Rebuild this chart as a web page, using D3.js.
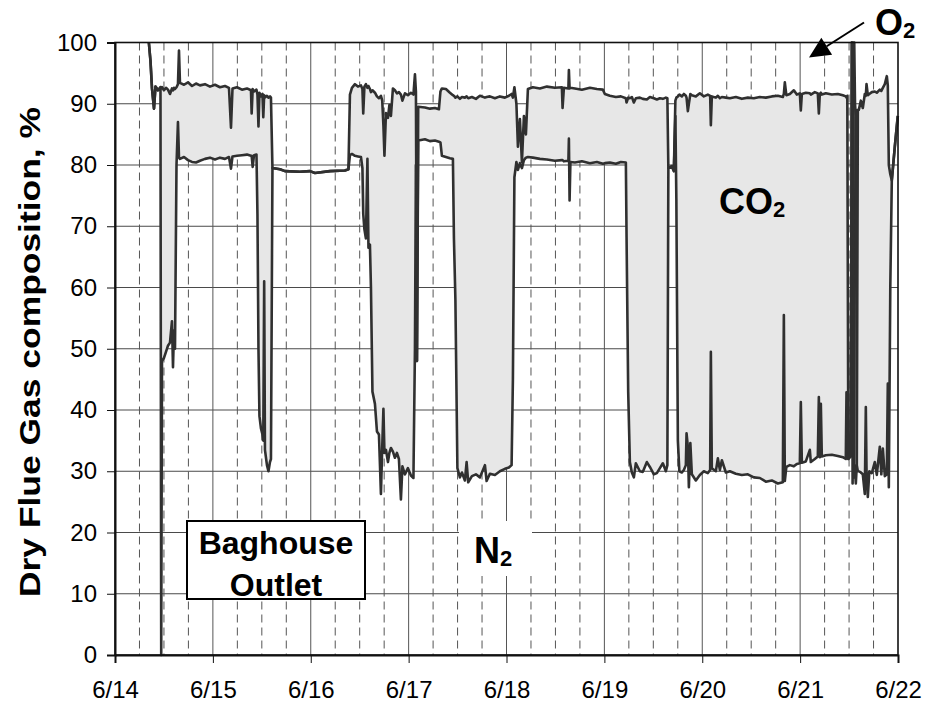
<!DOCTYPE html>
<html>
<head>
<meta charset="utf-8">
<script src="https://cdn.jsdelivr.net/npm/d3@7"></script>
<style>
  body { margin: 0; background: #fff; }
  svg { display: block; }
  text { font-family: Arial, "Liberation Sans", sans-serif; fill: #000; }
</style>
</head>
<body>
<svg id="chart" width="930" height="708"></svg>
<script>
// Hours since 6/14 00:00
const hours = [
  8.3,8.7,9.07,9.56,9.93,10.54,11.15,11.33,11.52,12.01,
  12.5,12.99,13.48,13.97,14.22,14.46,14.71,15.08,15.44,15.69,
  15.93,16.92,17.9,18.88,19.86,20.84,22.06,23.29,24.52,25.74,
  26.97,27.95,28.44,28.81,29.91,31.13,32.36,33.34,33.51,33.76,
  34.08,34.69,34.93,35.18,35.42,35.79,36.16,36.36,36.58,36.77,
  37.26,37.63,38.0,38.24,38.61,40.45,41.68,45.35,47.8,49.03,
  52.71,56.38,57.24,57.61,58.1,58.84,59.57,60.31,60.67,60.87,
  61.16,61.53,61.9,62.15,62.51,62.76,63.13,63.74,64.23,64.72,
  65.21,65.53,65.82,66.07,66.44,66.93,67.29,67.66,68.15,68.64,
  69.13,69.62,70.11,70.48,71.09,71.83,72.56,73.18,73.55,73.79,
  74.04,74.35,76.0,77.22,78.45,79.43,79.8,80.16,81.14,82.13,
  82.86,83.11,83.47,83.96,84.58,85.07,85.8,86.22,86.61,87.52,
  88.5,89.48,90.71,91.12,91.93,93.16,94.38,95.61,96.59,97.25,
  97.57,97.94,98.43,98.8,99.29,99.78,100.27,100.76,101.25,102.47,
  104.19,105.9,107.87,109.58,109.75,110.07,111.18,111.3,111.47,111.67,
  112.77,114.49,116.45,118.16,119.63,120.12,121.35,122.82,124.05,125.27,
  125.44,125.84,126.25,126.74,127.23,127.72,128.7,129.44,130.42,131.16,
  132.14,132.87,133.61,134.34,135.08,135.45,135.69,136.55,137.04,137.41,
  137.65,138.02,138.39,139.0,139.49,139.98,140.15,140.47,140.72,141.08,
  141.45,142.43,143.41,144.39,145.37,145.94,146.11,146.35,147.34,147.83,
  148.32,148.81,149.79,150.77,152.24,153.71,155.18,156.65,158.12,159.59,
  161.06,162.53,163.76,164.01,164.25,164.62,165.48,166.46,167.19,167.93,
  168.17,168.42,169.4,170.38,170.62,171.61,172.34,172.59,172.83,173.08,
  173.32,174.3,175.77,177.24,178.47,179.2,179.37,179.57,179.82,180.43,
  180.68,180.87,181.07,181.27,181.46,181.66,181.9,182.15,182.39,182.88,
  183.37,183.86,184.11,184.28,
  184.6,184.97,185.58,186.31,186.8,187.54,187.91,188.28,188.77,189.26,
  189.5,189.75,190.11,190.48,191.22,191.95
];

// N2, % (bottom layer)
const n2 = [
  100,97,92.5,89.2,92.8,92.2,92.7,0,48,48.5,
  49.5,50.5,51,54.5,47,53,50,80,87,81.2,
  81.0,81.3,80.8,80.5,80.4,80.7,81.0,81.2,80.9,81.2,
  81.0,81.3,79.4,81.4,81.5,81.6,81.7,81.5,81.5,79.7,
  81.6,81.7,72,50,39,37,36,35,61,33.5,
  31,30,31.5,32,79.5,79.3,79.0,78.9,79.0,78.7,
  79.0,79.1,79.3,81.6,81.8,81.5,81.4,81.3,79.5,72,
  69.5,68,81,66.5,67,60,43,41,36.5,36,
  26.3,34,40.2,33,33.5,31.5,33,33.8,33.2,32.2,
  33,32,25.4,30.8,29.5,30.5,29.3,28.9,50,80,
  48,84,84.2,83.9,84.0,83.8,83.7,81.5,81.3,81.1,
  81.0,68,58,30.5,29.0,29.8,28.5,31.5,28.2,29.2,
  29.5,29.0,31.0,28.4,29.6,29.4,30.0,30.4,30.6,31.0,
  45,78,80.5,79.2,80.3,79.5,80.8,81.2,81.3,81.2,
  81.0,80.9,80.7,80.8,80.8,80.6,80.7,84.3,74.2,80.5,
  80.4,80.6,80.3,80.5,80.2,80.3,80.4,80.2,80.5,80.4,
  68.2,43,31.5,29.8,29.0,31.3,30.0,29.9,31.5,30.7,
  29.5,29.7,30.5,31.3,30.0,31.0,79.5,79.8,79.0,88,
  74.5,35,30,29.8,30.2,31,36.2,34,27.4,34.6,
  29.5,28.5,29.4,30.0,29.7,30.2,49.5,30.5,30.0,32.1,
  30.2,31.8,29.8,30.0,29.6,29.4,29.5,29.0,28.9,28.3,
  28.5,28.0,28.2,55.5,28.4,30.7,31.0,30.8,31.2,31.3,
  41.3,31.4,31.6,33.5,31.5,32.0,32.4,42.1,32.3,41,
  32.4,32.6,32.7,32.5,32.3,32.0,42.9,33,32,32.5,
  100,28,98,29,30,28,31,30,30,29.8,
  29.5,26.3,40.5,30.2,
  25.8,30.0,29.7,31.5,29.4,34,29.5,33.7,29.2,29.5,
  44.3,27.4,60,77.5,83,88
];

// CO2, % (stacked on N2)
const co2 = [
  0,0,0,0,0,0,0,92.5,44.7,43.7,
  43.1,41.8,40.6,38.0,45.2,39.6,42.4,12.7,6.2,17.5,
  12.4,11.8,12.7,12.4,12.9,12.3,12.2,11.6,12.2,11.5,
  11.9,11.3,6.7,11.1,11.2,10.7,10.8,10.7,6.9,12.7,
  10.4,10.6,19.5,36.3,52.8,54.2,55.6,52.8,30.4,57.5,
  60.3,61.0,59.7,59.0,0,0,0,0,0,0,
  0,0,0,9.9,10.8,11.7,11.4,11.7,12.9,16.4,
  23.3,25.2,11.6,26.4,25.4,31.9,49.2,50.8,54.7,54.9,
  65.0,56.5,46.2,48.5,55.0,56.2,56.8,54.2,59.3,60.0,
  58.7,59.9,66.1,59.7,62.2,60.9,62.5,62.6,44.8,12.0,
  0,5.5,5.2,5.3,5.3,5.3,8.3,11.0,11.1,10.7,
  10.4,23.3,33.0,60.7,61.8,61.3,62.5,59.7,62.7,61.9,
  61.3,62.3,60.0,62.7,61.6,61.5,61.2,60.6,60.7,60.6,
  46.0,14.7,9.5,3.8,7.2,1.0,7.2,3.8,11.1,11.5,
  11.5,11.9,11.9,11.9,8.5,12.0,11.8,11.2,18.3,12.1,
  12.1,11.7,12.3,11.9,12.1,11.3,10.9,10.9,10.7,10.5,
  22.0,48.0,59.4,61.3,61.2,59.6,61.0,60.9,59.2,60.4,
  61.4,61.0,60.4,59.5,61.0,59.9,0,0,0,2.5,
  16.5,56.2,61.5,61.4,61.4,60.3,54.8,54.8,62.6,57.0,
  61.9,62.7,62.3,61.2,61.8,61.1,37.0,60.7,61.0,59.2,
  60.7,59.3,61.2,60.9,61.5,61.4,61.5,61.9,62.2,62.7,
  62.7,63.3,62.9,36.1,65.1,60.7,60.6,61.4,60.3,60.4,
  47.6,60.2,60.2,58.2,60.0,59.9,59.3,46.3,59.3,50.8,
  59.1,59.1,58.8,59.1,59.1,59.2,48.1,58.3,0,0,
  0,72,2,71,60,60,0,59,59,60.7,
  59.8,65.3,50.8,63.0,
  65.6,61.6,62.2,60.5,62.4,58.3,62.6,58.9,64.0,65.0,
  48.7,52.6,18.5,0,0,0
];

const dayLabels = ["6/14","6/15","6/16","6/17","6/18","6/19","6/20","6/21","6/22"];
const yTicks = [0,10,20,30,40,50,60,70,80,90,100];

const svg = d3.select("#chart");
const plot = { left: 115, right: 898, top: 42.5, bottom: 655 };

const x = d3.scaleLinear().domain([0, 192]).range([plot.left, plot.right]);
const y = d3.scaleLinear().domain([0, 100]).range([plot.bottom, plot.top]);

const rows = hours.map((h, i) => ({ h, n2: n2[i], top: n2[i] + co2[i] }));

// gridlines
const grid = svg.append("g");
grid.selectAll("line.h").data(yTicks.slice(1, -1)).join("line")
  .attr("x1", plot.left).attr("x2", plot.right)
  .attr("y1", d => y(d)).attr("y2", d => y(d))
  .attr("stroke", "#4a4a4a").attr("stroke-width", 1);

const dayHours = dayLabels.map((_, i) => i * 24);
grid.selectAll("line.d").data(dayHours.slice(1, -1)).join("line")
  .attr("x1", d => x(d)).attr("x2", d => x(d))
  .attr("y1", plot.top).attr("y2", plot.bottom)
  .attr("stroke", "#555").attr("stroke-width", 1);

const quarterHours = [];
dayHours.slice(0, -1).forEach(d => [6, 12, 18].forEach(q => quarterHours.push(d + q)));
grid.selectAll("line.q").data(quarterHours).join("line")
  .attr("x1", d => x(d)).attr("x2", d => x(d))
  .attr("y1", plot.top).attr("y2", plot.bottom)
  .attr("stroke", "#555").attr("stroke-width", 1)
  .attr("stroke-dasharray", "8,5");

// CO2 band between the N2 line and the N2+CO2 line
const band = d3.area()
  .x(d => x(d.h)).y0(d => y(d.n2)).y1(d => y(d.top));
svg.append("path").datum(rows).attr("d", band)
  .attr("fill", "#e7e7e7").attr("stroke", "none");

const lineN2 = d3.line().x(d => x(d.h)).y(d => y(d.n2));
const lineTop = d3.line().x(d => x(d.h)).y(d => y(d.top));
[lineN2, lineTop].forEach(gen => {
  svg.append("path").datum(rows).attr("d", gen)
    .attr("fill", "none").attr("stroke", "#303030")
    .attr("stroke-width", 2.6).attr("stroke-linejoin", "round");
});

// plot frame
svg.append("rect")
  .attr("x", plot.left).attr("y", plot.top)
  .attr("width", plot.right - plot.left).attr("height", plot.bottom - plot.top)
  .attr("fill", "none").attr("stroke", "#111").attr("stroke-width", 1.6);

// axes
const yAxis = d3.axisLeft(y).tickValues(yTicks).tickSize(8).tickPadding(10);
const gy = svg.append("g").attr("transform", `translate(${plot.left},0)`).call(yAxis);
gy.select(".domain").attr("stroke", "#111").attr("stroke-width", 2);
gy.selectAll(".tick line").attr("stroke", "#111");
gy.selectAll(".tick text").attr("font-size", 24)
  .attr("font-family", 'Arial, "Liberation Sans", sans-serif').attr("fill", "#000");

const xAxis = d3.axisBottom(x).tickValues(dayHours)
  .tickFormat((d, i) => dayLabels[i]).tickSize(8).tickPadding(18);
const gx = svg.append("g").attr("transform", `translate(0,${plot.bottom})`).call(xAxis);
gx.select(".domain").attr("stroke", "#111").attr("stroke-width", 2);
gx.selectAll(".tick line").attr("stroke", "#111");
gx.selectAll(".tick text").attr("font-size", 24)
  .attr("font-family", 'Arial, "Liberation Sans", sans-serif').attr("fill", "#000");

// axis title
svg.append("text")
  .attr("transform", "translate(40,352) rotate(-90)")
  .attr("text-anchor", "middle")
  .attr("font-size", 29).attr("font-weight", "bold")
  .attr("textLength", 490).attr("lengthAdjust", "spacingAndGlyphs")
  .text("Dry Flue Gas composition, %");

// annotations
const box = svg.append("g");
box.append("rect").attr("x", 187).attr("y", 521).attr("width", 178).attr("height", 78)
  .attr("fill", "#fff").attr("stroke", "#000").attr("stroke-width", 2);
box.append("text").attr("x", 276).attr("y", 554).attr("text-anchor", "middle")
  .attr("font-size", 32).attr("font-weight", "bold").text("Baghouse");
box.append("text").attr("x", 276).attr("y", 596).attr("text-anchor", "middle")
  .attr("font-size", 32).attr("font-weight", "bold").text("Outlet");

svg.append("rect").attr("x", 459).attr("y", 521).attr("width", 73).attr("height", 55)
  .attr("fill", "#fff");

function chemLabel(px, py, base) {
  const t = svg.append("text").attr("x", px).attr("y", py)
    .attr("font-size", 36).attr("font-weight", "bold");
  t.append("tspan").text(base);
  t.append("tspan").attr("font-size", 22).attr("dy", 3).text("2");
}
chemLabel(474, 563, "N");
chemLabel(719, 214, "CO");
chemLabel(875, 35, "O");

// arrow pointing at the O2 layer
const tip = [809, 57.5], tail = [864, 22.5];
const ang = Math.atan2(tail[1] - tip[1], tail[0] - tip[0]);
const headLen = 21, headHalf = 10;
const bx = tip[0] + headLen * Math.cos(ang), by = tip[1] + headLen * Math.sin(ang);
svg.append("line").attr("x1", tail[0]).attr("y1", tail[1]).attr("x2", bx).attr("y2", by)
  .attr("stroke", "#000").attr("stroke-width", 2);
svg.append("path")
  .attr("d", `M${tip[0]},${tip[1]}L${bx - headHalf * Math.sin(ang)},${by + headHalf * Math.cos(ang)}L${bx + headHalf * Math.sin(ang)},${by - headHalf * Math.cos(ang)}Z`)
  .attr("fill", "#000");
</script>
</body>
</html>
